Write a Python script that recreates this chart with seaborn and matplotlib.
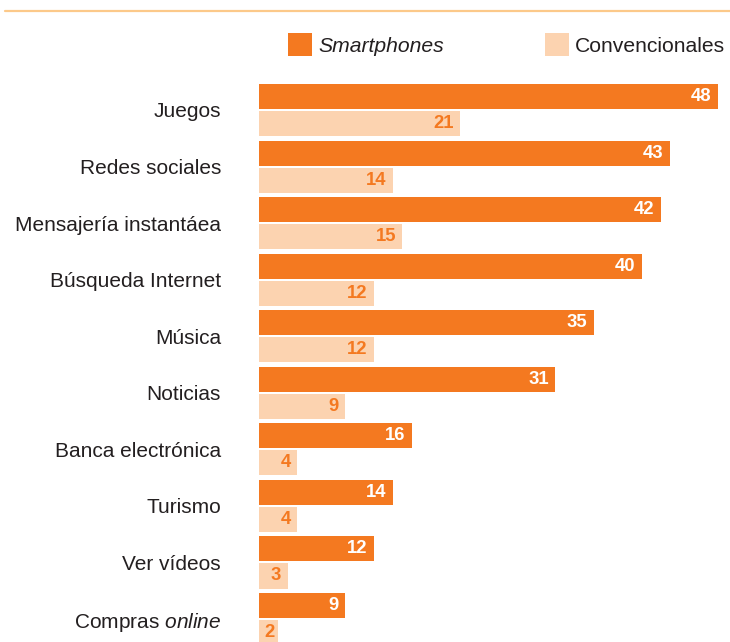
import matplotlib
matplotlib.use("Agg")
import matplotlib.pyplot as plt
from matplotlib.lines import Line2D
import pandas as pd
import seaborn as sns

# Usage of mobile services by phone type (%)
categories = [
    "Juegos",
    "Redes sociales",
    "Mensajería instantáea",
    "Búsqueda Internet",
    "Música",
    "Noticias",
    "Banca electrónica",
    "Turismo",
    "Ver vídeos",
    r"Compras $\it{online}$",
]
smartphones = [48, 43, 42, 40, 35, 31, 16, 14, 12, 9]
convencionales = [21, 14, 15, 12, 12, 9, 4, 4, 3, 2]
series_names = ["Smartphones", "Convencionales"]

ORANGE = "#F47920"
LIGHT = "#FCD3B0"
TEXT = "#231F20"

sns.set_style("white")
plt.rcParams["font.family"] = ["Liberation Sans", "DejaVu Sans"]
plt.rcParams["mathtext.fontset"] = "custom"
plt.rcParams["mathtext.rm"] = "Liberation Sans"
plt.rcParams["mathtext.it"] = "Liberation Sans:italic"

df = pd.DataFrame({
    "categoria": categories * 2,
    "valor": smartphones + convencionales,
    "tipo": [series_names[0]] * len(categories) + [series_names[1]] * len(categories),
})

W, H = 730, 642
fig = plt.figure(figsize=(W / 100, H / 100), dpi=100)
x0 = 259
ax = fig.add_axes([x0 / W, 0, (W - x0) / W, 1])

sns.barplot(
    data=df, y="categoria", x="valor", hue="tipo", orient="h",
    hue_order=series_names, palette=[ORANGE, LIGHT],
    width=0.955, gap=0.073, saturation=1, linewidth=0, ax=ax, legend=True,
)

# scale: 9.5625 px per percentage point, 56.56 px per category row
px_per_unit = 9.5625
row_px = 56.56
ax.set_xlim(0, (W - x0) / px_per_unit)
ax.set_ylim((H - 110) / row_px, -110 / row_px)

for sp in ax.spines.values():
    sp.set_visible(False)
ax.set_xlabel("")
ax.set_ylabel("")
ax.set_xticks([])
ax.tick_params(axis="y", length=0, pad=27.4, labelsize=15, labelcolor=TEXT)

# value labels inside bar ends
label_colors = ["white", ORANGE]
for cont, vals, col in zip(ax.containers, [smartphones, convencionales], label_colors):
    for bar, v in zip(cont, vals):
        yc = bar.get_y() + bar.get_height() / 2
        ax.annotate(
            f"{v}", xy=(v, yc), xytext=(-4.6 if v > 2 else -2.5, 0),
            textcoords="offset points", ha="right", va="center",
            fontsize=13.3, fontweight="bold", color=col,
        )

# legend
handles, labels = ax.get_legend_handles_labels()
leg = ax.legend(
    handles, labels, ncol=2, frameon=False, loc="upper left",
    bbox_to_anchor=(288 / W, 1 - 33 / H), bbox_transform=fig.transFigure,
    fontsize=15.2, handlelength=1.15, handleheight=1.3, handletextpad=0.3,
    columnspacing=4.75, borderpad=0, borderaxespad=0,
)
for t in leg.get_texts():
    t.set_color(TEXT)
leg.get_texts()[0].set_fontstyle("italic")

# top rule
fig.add_artist(Line2D([5 / W, 1], [1 - 11 / H] * 2, color="#FCC98A", lw=1.6,
                      transform=fig.transFigure))

fig.savefig("out.png", dpi=100)
